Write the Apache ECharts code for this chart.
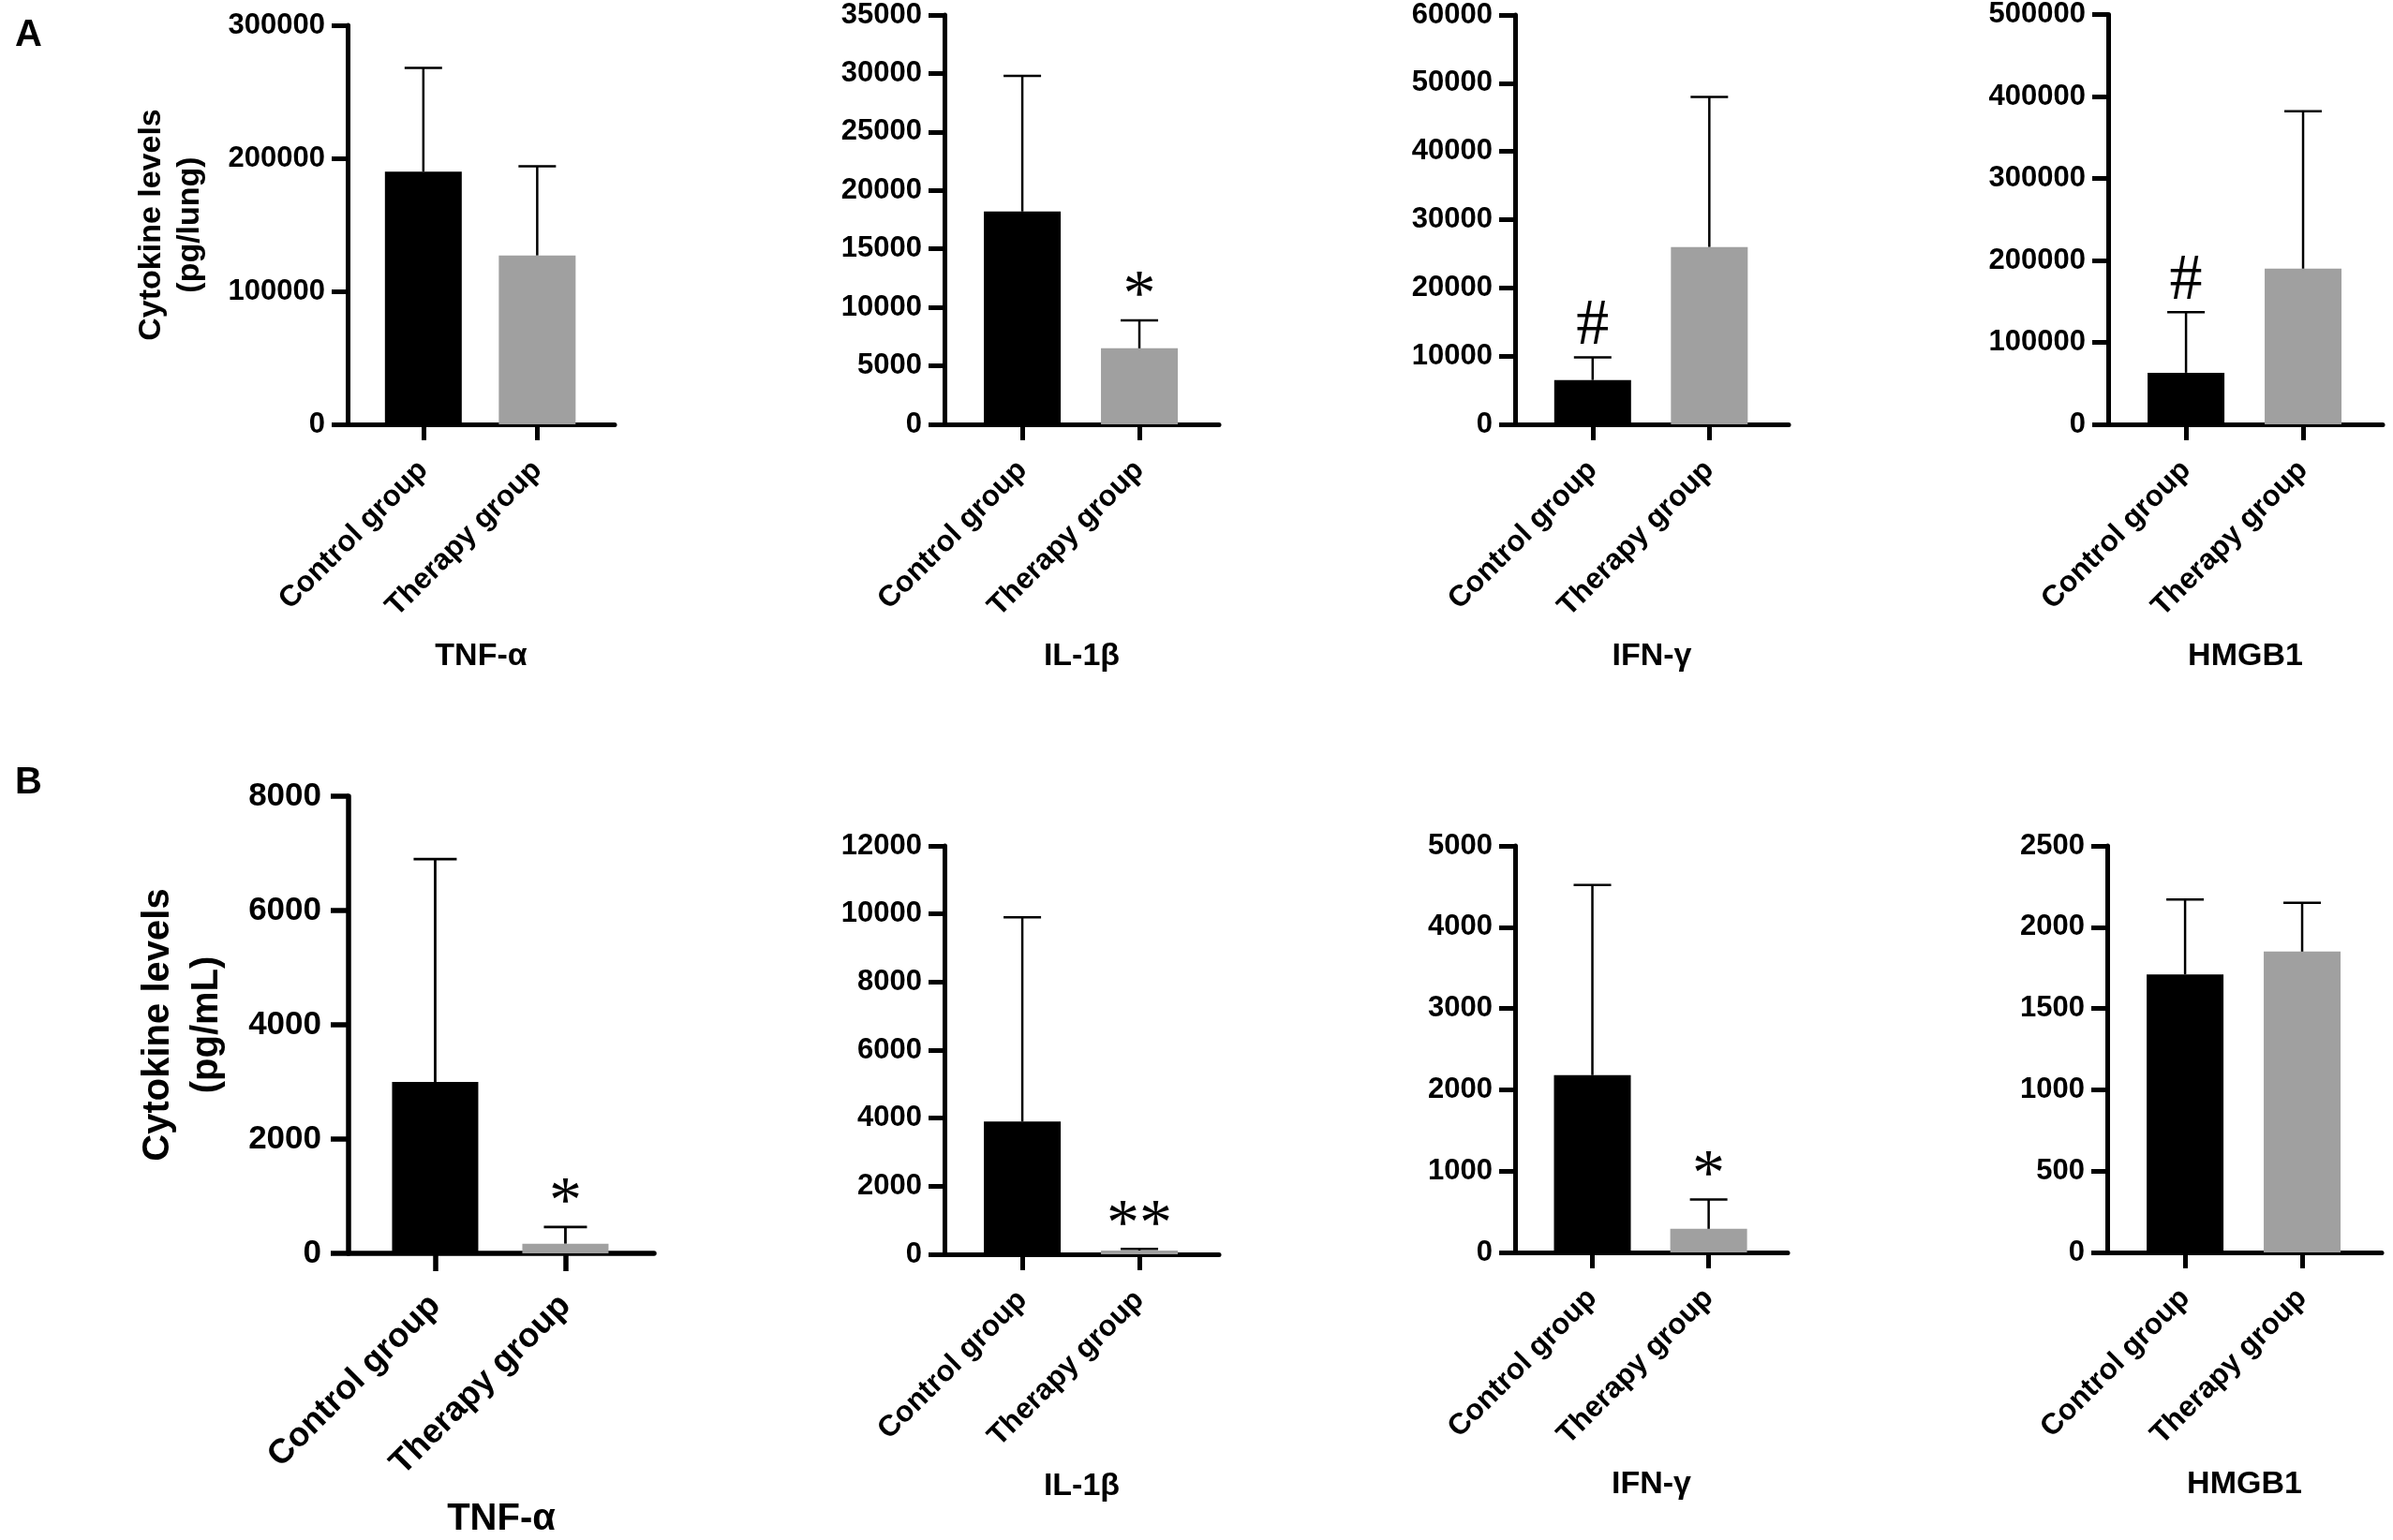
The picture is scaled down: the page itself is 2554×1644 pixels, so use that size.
<!DOCTYPE html>
<html>
<head>
	<meta charset="utf-8">
	<title>Cytokine levels</title>
	<style>
		* { margin: 0; padding: 0; }
		body { background: #fff; }
		#main { width: 2554px; height: 1644px; }
	</style>
</head>
<body>
<div id="main"></div>
<script src="https://cdn.jsdelivr.net/npm/echarts@6/dist/echarts.min.js"></script>
<script>
	var groups = ['Control group', 'Therapy group'];
	var cytokines = ['TNF-α', 'IL-1β', 'IFN-γ', 'HMGB1'];

	// A: lung (pg/lung), mean and SD per cytokine
	var lungMean = [[190000, 127000], [18200, 6500], [6500, 26000], [63000, 190000]];
	var lungSD = [[78000, 67000], [11600, 2400], [3300, 22000], [74000, 192000]];
	var lungSig = [['', ''], ['', '*'], ['#', ''], ['#', '']];
	var lungMax = [300000, 35000, 60000, 500000];
	var lungStep = [100000, 5000, 10000, 100000];

	// B: serum (pg/mL)
	var serumMean = [[3000, 170], [3900, 110], [2180, 290], [1710, 1850]];
	var serumSD = [[3900, 290], [6000, 50], [2340, 360], [460, 300]];
	var serumSig = [['', '*'], ['', '**'], ['', '*'], ['', '']];
	var serumMax = [8000, 12000, 5000, 2500];
	var serumStep = [2000, 2000, 1000, 500];

	var barColors = ['#000000', '#a0a0a0'];
	var FONT = "'Liberation Sans', Arial, sans-serif";

	// panel boxes (pixels)
	var boxA = [
		{ left: 371, top: 27, width: 285, height: 426 },
		{ left: 1008, top: 16, width: 293, height: 437 },
		{ left: 1617, top: 16, width: 292, height: 437 },
		{ left: 2250, top: 15, width: 293, height: 438 }
	];
	var boxB = [
		{ left: 372, top: 850, width: 326, height: 488 },
		{ left: 1008, top: 903, width: 293, height: 436 },
		{ left: 1617, top: 903, width: 291, height: 434 },
		{ left: 2249, top: 903, width: 293, height: 434 }
	];

	var normal = { tickFont: 31, catFont: 31.5, nameFont: 34, yNameFont: 34, yNameLH: 41, bar: 82, cap: 20, axisW: 5, tickLen: 17, errW: 2.5,
		catMargin: 44, yMargin: 24, nameGap: 231, yNameGap: 148 };
	var big = { tickFont: 35, catFont: 36.5, nameFont: 40, yNameFont: 40, yNameLH: 52, bar: 92, cap: 23, axisW: 5.5, tickLen: 19, errW: 2.8,
		catMargin: 50, yMargin: 29, nameGap: 264, yNameGap: 125 };

	var option = {
		animation: false,
		backgroundColor: '#fff',
		grid: [], xAxis: [], yAxis: [], series: [],
		graphic: [
			{ type: 'text', left: 16, top: 18, style: { text: 'A', fontSize: 40, fontWeight: 'bold', fontFamily: FONT, fill: '#000' } },
			{ type: 'text', left: 16, top: 816, style: { text: 'B', fontSize: 40, fontWeight: 'bold', fontFamily: FONT, fill: '#000' } }
		]
	};

	function errRender(marks, st) {
		return function (params, api) {
			var x = api.value(0);
			var p0 = api.coord([x, api.value(1)]);
			var p1 = api.coord([x, api.value(2)]);
			var kids = [
				{ type: 'line', shape: { x1: p0[0], y1: p0[1], x2: p1[0], y2: p1[1] }, style: { stroke: '#000', lineWidth: st.errW } },
				{ type: 'line', shape: { x1: p1[0] - st.cap, y1: p1[1], x2: p1[0] + st.cap, y2: p1[1] }, style: { stroke: '#000', lineWidth: st.errW } }
			];
			var m = marks[params.dataIndex];
			if (m) {
				// asterisk glyph sits high in the em box
				var shift = m.indexOf('*') >= 0 ? -24 : -33;
				kids.push({
					type: 'text', x: p1[0], y: p1[1] + shift,
					style: { text: m, fontSize: 70, fontFamily: "'Liberation Serif', 'Times New Roman', serif", fill: '#000', align: 'center', verticalAlign: 'middle' }
				});
			}
			return { type: 'group', children: kids };
		};
	}

	function addPanel(box, means, sds, marks, max, step, name, yName, st) {
		var i = option.grid.length;
		option.grid.push({ left: box.left, top: box.top, width: box.width, height: box.height, containLabel: false });
		option.xAxis.push({
			type: 'value', gridIndex: i, min: 0.335, max: 2.68,
			splitLine: { show: false },
			axisLine: { show: true, lineStyle: { color: '#000', width: st.axisW } },
			axisTick: { show: true, customValues: [1, 2], length: st.tickLen, lineStyle: { color: '#000', width: st.axisW } },
			axisLabel: {
				customValues: [1, 2], rotate: 45, margin: st.catMargin,
				fontSize: st.catFont, fontWeight: 'bold', fontFamily: FONT, color: '#000',
				formatter: function (v) { return groups[Math.round(v) - 1] || ''; }
			},
			name: name, nameLocation: 'middle', nameGap: st.nameGap,
			nameTextStyle: { fontSize: st.nameFont, fontWeight: 'bold', fontFamily: FONT, color: '#000' }
		});
		var y = {
			type: 'value', gridIndex: i, min: 0, max: max, interval: step,
			splitLine: { show: false },
			axisLine: { show: true, lineStyle: { color: '#000', width: st.axisW } },
			axisTick: { show: true, length: st.tickLen, lineStyle: { color: '#000', width: st.axisW } },
			axisLabel: {
				margin: st.yMargin, fontSize: st.tickFont, fontWeight: 'bold', fontFamily: FONT, color: '#000',
				formatter: function (v) { return String(v); }
			}
		};
		if (yName) {
			y.name = yName;
			y.nameLocation = 'middle';
			y.nameGap = st.yNameGap;
			y.nameTextStyle = { fontSize: st.yNameFont, lineHeight: st.yNameLH, fontWeight: 'bold', fontFamily: FONT, color: '#000' };
		}
		option.yAxis.push(y);

		option.series.push({
			type: 'bar', xAxisIndex: i, yAxisIndex: i, barWidth: st.bar,
			data: means.map(function (m, k) {
				return { value: [k + 1, m], itemStyle: { color: barColors[k] } };
			})
		});
		option.series.push({
			type: 'custom', xAxisIndex: i, yAxisIndex: i, z: 5,
			renderItem: errRender(marks, st),
			data: means.map(function (m, k) { return [k + 1, m, m + sds[k]]; })
		});
	}

	for (var c = 0; c < 4; c++) {
		addPanel(boxA[c], lungMean[c], lungSD[c], lungSig[c], lungMax[c], lungStep[c], cytokines[c],
			c === 0 ? 'Cytokine levels\n(pg/lung)' : '', normal);
	}
	for (var c = 0; c < 4; c++) {
		addPanel(boxB[c], serumMean[c], serumSD[c], serumSig[c], serumMax[c], serumStep[c], cytokines[c],
			c === 0 ? 'Cytokine levels\n(pg/mL)' : '', c === 0 ? big : normal);
	}

	var myChart = echarts.init(document.getElementById('main'));
	myChart.setOption(option);
</script>
</body>
</html>
